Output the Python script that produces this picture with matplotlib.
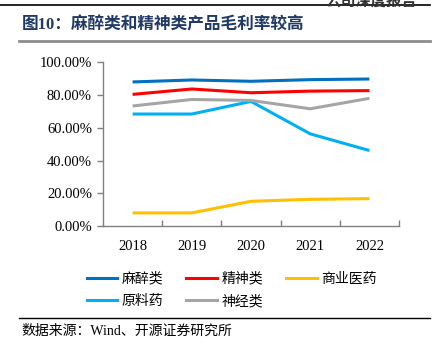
import matplotlib
matplotlib.use("Agg")
import matplotlib.pyplot as plt
from matplotlib.lines import Line2D
from matplotlib.ticker import FixedLocator, FuncFormatter

plt.rcParams['font.family'] = ['Liberation Serif', 'Noto Sans CJK SC', 'DejaVu Sans']

years = ["2018", "2019", "2020", "2021", "2022"]
series_names = ["麻醉类", "精神类", "商业医药", "原料药", "神经类"]
anesthesia = [88.0, 89.2, 88.4, 89.4, 89.8]
psychiatric = [80.4, 83.7, 81.4, 82.4, 82.7]
commercial = [8.0, 8.0, 15.1, 16.3, 16.7]
api = [68.4, 68.4, 76.1, 56.3, 46.1]
neuro = [73.3, 77.3, 76.7, 71.6, 78.0]
yticks = [0, 20, 40, 60, 80, 100]

colors = ["#0070C0", "#FF0000", "#FFC000", "#00B0F0", "#A5A5A5"]
data = [anesthesia, psychiatric, commercial, api, neuro]

W, H = 437, 353
fig = plt.figure(figsize=(W / 100, H / 100), dpi=100)

ax = fig.add_axes([103 / W, 1 - 226 / H, (399 - 103) / W, (226 - 62.3) / H])
x = list(range(len(years)))
for vals, c, name in zip(data, colors, series_names):
    ax.plot(x, vals, color=c, lw=2.2, solid_capstyle='butt', label=name)

ax.set_xlim(-0.5, len(years) - 0.5)
ax.set_ylim(0, 100)
ax.set_yticks(yticks)
ax.yaxis.set_major_formatter(FuncFormatter(lambda v, p: f"{v:.2f}%"))
ax.set_xticks(x)
ax.set_xticklabels(years)
ax.xaxis.set_minor_locator(FixedLocator([i + 0.5 for i in x]))
ax.tick_params(axis='x', which='major', length=0, pad=10, labelsize=10.5, colors='black')
ax.tick_params(axis='x', which='minor', direction='in', length=4, color='#808080', width=1)
ax.tick_params(axis='y', direction='out', length=4, color='#808080', width=1, labelsize=10.5, pad=4)
for s in ['top', 'right']:
    ax.spines[s].set_visible(False)
for s in ['left', 'bottom']:
    ax.spines[s].set_color('#808080')
    ax.spines[s].set_linewidth(1)

# legend (row-wise order: reorder for matplotlib's column-major fill)
ncol = 3
nrow = (len(series_names) + ncol - 1) // ncol
order = []
for c in range(ncol):
    for r in range(nrow):
        i = r * ncol + c
        if i < len(series_names):
            order.append(i)
handles = [Line2D([], [], color=colors[i], lw=2.2) for i in order]
labels = [series_names[i] for i in order]
cjk = ['Noto Sans CJK SC', 'DejaVu Sans']
leg = fig.legend(handles, labels, ncol=ncol, loc='upper left',
                 bbox_to_anchor=(74 / W, 1 - 259 / H), frameon=False,
                 handlelength=2.2, handletextpad=0.3, columnspacing=1.7,
                 labelspacing=0.62, prop={'family': cjk, 'size': 10})

# header / title / footer
mixed = ['Liberation Serif', 'Noto Sans CJK SC', 'DejaVu Sans']
fig.text(417 / W, 1 - 1 / H, "公司深度报告", ha='right', va='center',
         family=cjk, fontsize=11, fontweight='bold', color='#333333')
fig.add_artist(Line2D([0, 430 / W], [1 - 4.5 / H, 1 - 4.5 / H], color='black', lw=1.2))
fig.text(22 / W, 1 - 25 / H, "图10：麻醉类和精神类产品毛利率较高", ha='left', va='center',
         family=mixed, fontsize=12, fontweight='bold', color='#1F3864')
fig.add_artist(Line2D([19 / W, 430 / W], [1 - 41 / H, 1 - 41 / H], color='#8C8C8C', lw=2))
fig.add_artist(Line2D([19 / W, 430 / W], [1 - 318 / H, 1 - 318 / H], color='black', lw=1))
fig.text(21 / W, 1 - 331 / H, "数据来源：Wind、开源证券研究所", ha='left', va='center',
         family=mixed, fontsize=10, color='black')

fig.savefig("out.png", dpi=100)
